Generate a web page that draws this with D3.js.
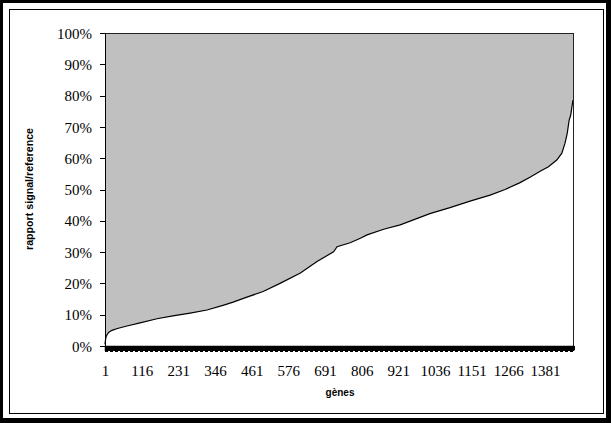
<!DOCTYPE html>
<html>
<head>
<meta charset="utf-8">
<script src="https://cdn.jsdelivr.net/npm/d3@7"></script>
<style>
  html, body { margin: 0; padding: 0; background: #fff; }
  svg { display: block; }
</style>
</head>
<body>
<svg id="chart" width="611" height="423"></svg>
<script>
// ---- data ----
const geneCount = 1469;
const geneIdx = [1, 2, 4, 7, 12, 23, 40, 70, 111, 164, 214, 268, 321, 371, 403, 446, 497, 550, 614, 666, 718, 729, 770, 802, 823, 875, 927, 1020, 1083, 1146, 1209, 1256, 1303, 1334, 1366, 1392, 1418, 1434, 1444, 1451, 1457, 1462, 1465, 1469];
const ratio = [0.5, 1.5, 2.8, 3.5, 4.3, 5.0, 5.6, 6.4, 7.4, 8.7, 9.6, 10.5, 11.5, 13.0, 14.0, 15.6, 17.4, 20.0, 23.3, 27.0, 30.1, 31.7, 33.0, 34.4, 35.5, 37.3, 38.7, 42.3, 44.2, 46.3, 48.2, 50.0, 52.2, 53.9, 55.8, 57.3, 59.4, 61.6, 64.8, 68.0, 72.2, 73.8, 76.0, 78.6];
const xTickLabels = [1, 116, 231, 346, 461, 576, 691, 806, 921, 1036, 1151, 1266, 1381];
const yTicks = [0, 10, 20, 30, 40, 50, 60, 70, 80, 90, 100];
const xTitle = "gènes";
const yTitle = "rapport signal/reference";

const points = geneIdx.map((g, i) => ({ g, v: ratio[i] }));

const svg = d3.select("#chart");
const W = 611, H = 423;

// outer frame (thick black, heavier at right/bottom) and inner thin line
svg.append("rect").attr("x", 0).attr("y", 0).attr("width", W).attr("height", H).attr("fill", "#000");
svg.append("rect").attr("x", 3).attr("y", 3).attr("width", 603).attr("height", 415).attr("fill", "#fff");
svg.append("rect").attr("x", 9.5).attr("y", 9.5).attr("width", 594).attr("height", 404)
  .attr("fill", "none").attr("stroke", "#000").attr("stroke-width", 1);

const pl = { left: 105, right: 573, top: 33, bottom: 346 };
const x = d3.scaleLinear().domain([1, geneCount]).range([pl.left, pl.right]);
const y = d3.scaleLinear().domain([0, 100]).range([pl.bottom, pl.top]);

// plot background
svg.append("rect").attr("x", pl.left).attr("y", pl.top)
  .attr("width", pl.right - pl.left).attr("height", pl.bottom - pl.top)
  .attr("fill", "#c0c0c0");

// area (white) + line
const area = d3.area().x(d => x(d.g)).y0(y(0)).y1(d => y(d.v));
svg.append("path").datum(points).attr("d", area).attr("fill", "#fff");
const line = d3.line().x(d => x(d.g)).y(d => y(d.v));
svg.append("path").datum(points).attr("d", line)
  .attr("fill", "none").attr("stroke", "#000").attr("stroke-width", 1.2);

// plot border (top/right)
svg.append("path")
  .attr("d", `M${pl.left},${pl.top + 0.5}H${pl.right + 0.5}V${pl.bottom}`)
  .attr("fill", "none").attr("stroke", "#222").attr("stroke-width", 1)
  .attr("shape-rendering", "crispEdges");

// y axis
const yAxis = d3.axisLeft(y).tickValues(yTicks).tickSize(5).tickPadding(8)
  .tickFormat(d => d + "%");
const gy = svg.append("g").attr("transform", `translate(${pl.left},0)`).call(yAxis);
gy.select(".domain").attr("stroke", "#000").attr("shape-rendering", "crispEdges");
gy.selectAll(".tick line").attr("stroke", "#000").attr("shape-rendering", "crispEdges");
gy.selectAll("text").attr("font-family", "'Liberation Serif', 'Times New Roman', serif")
  .attr("font-size", 15).attr("fill", "#000").attr("dy", "0.34em");

// x axis: a tick mark for every gene category (forms the heavy band)
const allCats = d3.range(1, geneCount + 1);
const xTickAxis = d3.axisBottom(x).tickValues(allCats).tickSize(5).tickFormat("");
const gxt = svg.append("g").attr("transform", `translate(0,${pl.bottom})`).call(xTickAxis);
gxt.select(".domain").attr("stroke", "#000").attr("stroke-width", 1.5);
gxt.selectAll(".tick line").attr("stroke", "#000").attr("stroke-width", 1);
svg.append("rect").attr("x", pl.left).attr("y", pl.bottom).attr("width", pl.right - pl.left + 2)
  .attr("height", 4).attr("fill", "#000");
svg.append("line").attr("x1", pl.left).attr("x2", pl.right + 2)
  .attr("y1", pl.bottom + 5.5).attr("y2", pl.bottom + 5.5)
  .attr("stroke", "#000").attr("stroke-width", 1).attr("stroke-dasharray", "3,2")
  .attr("shape-rendering", "crispEdges");

// x axis labels
const xLabelAxis = d3.axisBottom(x).tickValues(xTickLabels).tickSize(0).tickPadding(19)
  .tickFormat(d => String(d));
const gxl = svg.append("g").attr("transform", `translate(0,${pl.bottom})`).call(xLabelAxis);
gxl.select(".domain").remove();
gxl.selectAll("text").attr("font-family", "'Liberation Serif', 'Times New Roman', serif")
  .attr("font-size", 15).attr("fill", "#000");

// axis titles
svg.append("text").attr("x", (pl.left + pl.right) / 2 + 1).attr("y", 396)
  .attr("text-anchor", "middle")
  .attr("font-family", "'Liberation Sans', Arial, sans-serif")
  .attr("font-weight", "bold").attr("font-size", 10).attr("fill", "#000")
  .text(xTitle);
svg.append("text").attr("transform", "translate(33,189) rotate(-90)")
  .attr("text-anchor", "middle")
  .attr("font-family", "'Liberation Sans', Arial, sans-serif")
  .attr("font-weight", "bold").attr("font-size", 10).attr("fill", "#000")
  .attr("textLength", 122).attr("lengthAdjust", "spacingAndGlyphs")
  .text(yTitle);
</script>
</body>
</html>
